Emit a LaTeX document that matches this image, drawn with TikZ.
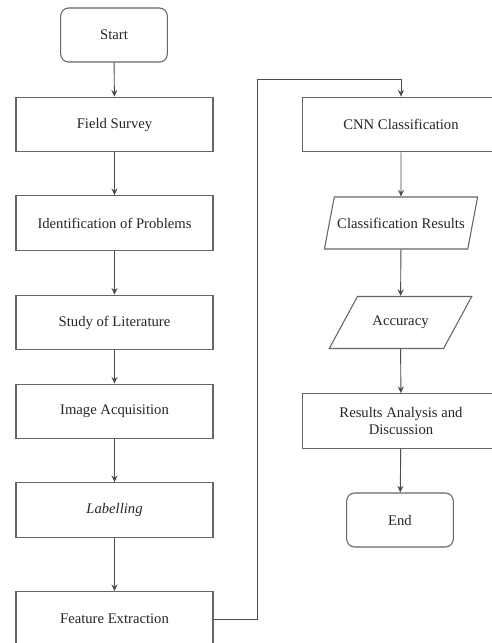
\documentclass[tikz,border=0pt]{standalone}
\usepackage{fontspec}
\setmainfont{Liberation Serif}
\usepackage{tikz}
\usetikzlibrary{calc,positioning,arrows,arrows.meta,shapes}
\tikzstyle{process}   = [rectangle, minimum width=147.75pt, minimum height=41pt, text centered, draw=black!60, line width=0.8pt, text=black!85, align=center, font=\fontsize{11}{13}\selectfont]
\tikzstyle{terminal}  = [rectangle, rounded corners=6pt, minimum width=80pt, minimum height=40.5pt, text centered, draw=black!60, line width=0.8pt, text=black!85, font=\fontsize{11}{13}\selectfont]
\tikzstyle{io}        = [trapezium, trapezium left angle=70, trapezium right angle=110, trapezium stretches=true, minimum width=115.5pt, minimum height=39pt, inner xsep=-12pt, text centered, draw=black!60, line width=0.8pt, text=black!85, font=\fontsize{11}{13}\selectfont]
\tikzstyle{arrow}     = [-{Stealth[length=5pt,width=4.5pt]}, draw=black!70, line width=0.7pt]

\begin{document}
\begin{tikzpicture}[x=0.75pt,y=-0.75pt]
		\clip (0,0) rectangle (492,643);
		\fill[white] (0,0) rectangle (492,643);

		% left column
		\node[terminal] (start) at (114,35) {Start};
		\node[process] (survey) at (114.5,124.5) {Field Survey};
		\node[process] (problems) at (114.5,223) {Identification of Problems};
		\node[process] (literature) at (114.5,322.5) {Study of Literature};
		\node[process] (acquisition) at (114.5,411.5) {Image Acquisition};
		\node[process] (labelling) at (114.5,510) {\textit{Labelling}};
		\node[process] (extraction) at (114.5,619) {Feature Extraction};

		% right column
		\node[process] (cnn) at (401,124.5) {CNN Classification};
		\node[io] (results) at (401,223) {Classification Results};
		\node[io, minimum width=107pt] (accuracy) at (400.5,322.5) {Accuracy};
		\node[process] (analysis) at (401,421) {Results Analysis and\\Discussion};
		\node[terminal] (stop) at (400,520) {End};

		\draw[arrow] (start) -- (survey);
		\draw[arrow] (survey) -- (problems);
		\draw[arrow] (problems) -- (literature);
		\draw[arrow] (literature) -- (acquisition);
		\draw[arrow] (acquisition) -- (labelling);
		\draw[arrow] (labelling) -- (extraction);

		\coordinate (bend) at (257,79);
		\draw[arrow] (extraction.east) -| (bend) -| (cnn.north);

		\draw[arrow] (cnn) -- (results);
		\draw[arrow] (results) -- (accuracy);
		\draw[arrow] (accuracy) -- (analysis);
		\draw[arrow] (analysis) -- (stop);
	\end{tikzpicture}
\end{document}
